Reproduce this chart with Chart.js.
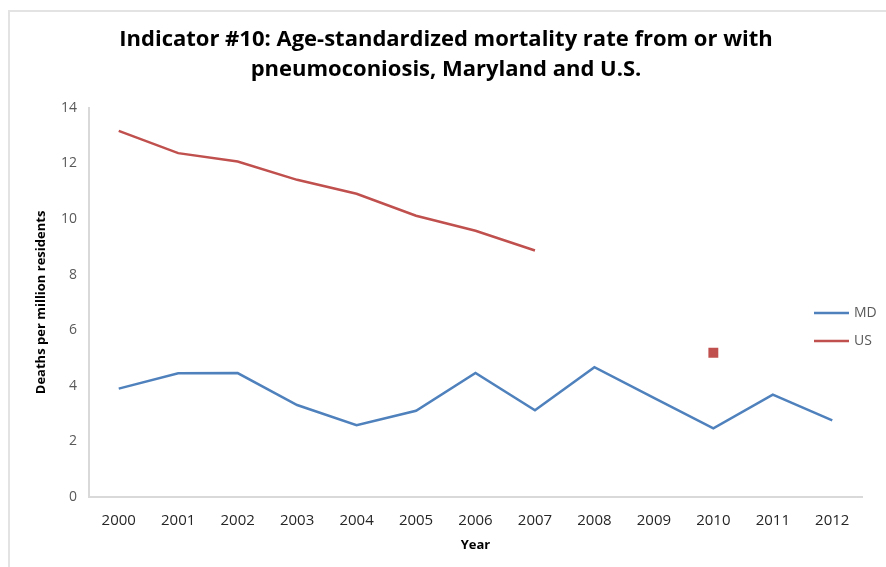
<!DOCTYPE html>
<html>
<head>
<meta charset="utf-8">
<script src="https://cdn.jsdelivr.net/npm/chart.js@4"></script>
<style>
  html, body { margin: 0; padding: 0; background: #fff; }
  #wrap { position: relative; width: 886px; height: 567px; }
  #frame { position: absolute; left: 8px; top: 10px; right: -2px; bottom: -2px; border: 2px solid #e3e3e3; }
  canvas { position: absolute; left: 0; top: 0; }
</style>
</head>
<body>
<div id="wrap">
  <div id="frame"></div>
  <canvas id="myChart" width="886" height="567"></canvas>
</div>
<script>
const years = ['2000', '2001', '2002', '2003', '2004', '2005', '2006', '2007', '2008', '2009', '2010', '2011', '2012'];
const mdRates = [3.90, 4.45, 4.46, 3.31, 2.58, 3.10, 4.46, 3.12, 4.67, 3.57, 2.47, 3.68, 2.76];
const usRates = [13.17, 12.37, 12.07, 11.41, 10.91, 10.12, 9.58, 8.87, null, null, 5.19, null, null];
const yTicks = [0, 2, 4, 6, 8, 10, 12, 14];

const ctx = document.getElementById('myChart');

// show a marker only where a value has no neighbours (nothing to draw a line to)
function lonelyPoint(c) {
    const d = c.dataset.data;
    const i = c.dataIndex;
    if (d[i] == null) return 0;
    const prev = i > 0 ? d[i - 1] : null;
    const next = i < d.length - 1 ? d[i + 1] : null;
    return (prev == null && next == null) ? 7 : 0;
}

// legend sits inside the plot, to the right, like the excel one
const sideLegend = {
    id: 'sideLegend',
    afterDraw(chart) {
        const c = chart.ctx;
        const sets = chart.data.datasets;
        c.save();
        c.font = '14px "Open Sans"';
        c.textBaseline = 'middle';
        sets.forEach((ds, i) => {
            const y = 313 + i * 28;
            c.strokeStyle = ds.borderColor;
            c.lineWidth = 2.5;
            c.beginPath();
            c.moveTo(814, y);
            c.lineTo(849, y);
            c.stroke();
            c.fillStyle = '#595959';
            c.fillText(ds.label, 854, y);
        });
        c.restore();
    }
};

new Chart(ctx, {
    type: 'line',
    data: {
        labels: years,
        datasets: [{
            label: 'MD',
            data: mdRates,
            borderColor: '#4F81BD',
            backgroundColor: '#4F81BD',
            borderWidth: 2.5,
            pointRadius: lonelyPoint,
            pointStyle: 'rect',
            tension: 0
        }, {
            label: 'US',
            data: usRates,
            borderColor: '#C0504D',
            backgroundColor: '#C0504D',
            borderWidth: 2.5,
            pointRadius: lonelyPoint,
            pointBorderWidth: 0,
            pointStyle: 'rect',
            spanGaps: false,
            tension: 0
        }]
    },
    options: {
        responsive: false,
        animation: false,
        layout: { padding: { left: 30, right: 24, top: 0, bottom: 0 } },
        plugins: {
            legend: { display: false },
            tooltip: { enabled: false },
            title: {
                display: true,
                text: ['Indicator #10: Age-standardized mortality rate from or with', 'pneumoconiosis, Maryland and U.S.'],
                color: '#000',
                font: { family: '"Open Sans"', size: 22, weight: 'bold', lineHeight: 1.36 },
                padding: { top: 25, bottom: 23 }
            }
        },
        scales: {
            x: {
                offset: true,
                grid: { display: false, drawTicks: false },
                border: { color: '#d9d9d9', width: 2 },
                ticks: {
                    color: '#262626',
                    font: { family: '"Open Sans"', size: 15 },
                    padding: 15,
                    maxRotation: 0
                },
                title: {
                    display: true,
                    text: 'Year',
                    color: '#000',
                    font: { family: '"Open Sans"', size: 13, weight: 'bold' },
                    padding: { top: 4, bottom: 14 }
                },
                afterFit(scale) { scale.height = 70; }
            },
            y: {
                min: 0,
                max: 14,
                afterBuildTicks(scale) { scale.ticks = yTicks.map(v => ({ value: v })); },
                grid: { display: false, drawTicks: false },
                border: { color: '#d9d9d9', width: 2 },
                ticks: {
                    color: '#595959',
                    font: { family: '"Open Sans"', size: 14 },
                    padding: 12
                },
                title: {
                    display: true,
                    text: 'Deaths per million residents',
                    color: '#000',
                    font: { family: '"Open Sans"', size: 13, weight: 'bold' },
                    padding: { top: 3, bottom: 4 }
                },
                afterFit(scale) { scale.width = 59; }
            }
        }
    },
    plugins: [sideLegend]
});
</script>
</body>
</html>
